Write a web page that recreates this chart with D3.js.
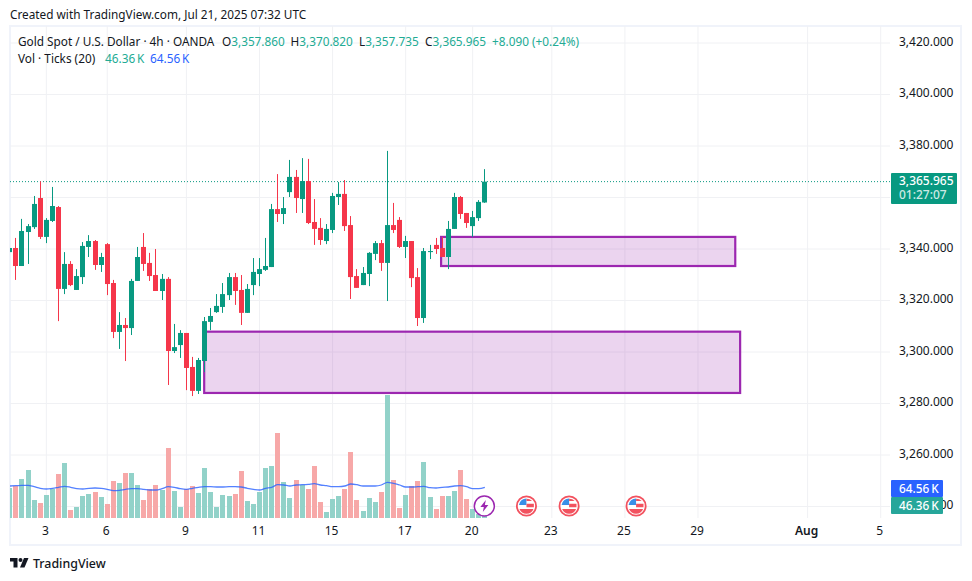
<!DOCTYPE html>
<html>
<head>
<meta charset="utf-8">
<script src="https://cdn.jsdelivr.net/npm/d3@7"></script>
<style>
html,body{margin:0;padding:0;background:#fff;}
svg{display:block;}
text{font-family:"Noto Sans",sans-serif;font-size:11.8px;fill:#131722;}
</style>
</head>
<body>
<div id="chart"></div>
<script>
const opens = [3338.6,3340.2,3333.2,3346.4,3348.3,3359.6,3344.5,3350.7,3356.1,3324.3,3334,3323.9,3328.9,3340.6,3342.9,3333.6,3341.7,3326.6,3307.6,3310.3,
  3309.1,3327.4,3340.6,3334.4,3329.7,3323.5,3328.2,3300.2,3302.5,3307.2,3294,3284.7,3296.3,3311.5,3315.3,3317.3,3321.9,3328.9,3323.9,3315,
  3325.8,3330.1,3331.7,3332.8,3355.3,3353.4,3361.9,3367.8,3359.2,3366.2,3350.3,3348,3342.9,3347.2,3360,3361.2,3349.1,3329.3,3325.8,3330.1,
  3337.9,3342.1,3334.4,3349.1,3351.1,3340.6,3342.9,3328.9,3313,3338.6,3341.4,3340.2,3336.7,3347.6,3360,3353.8,3348.7,3351.8,3357.86];
const highs = [3340.2,3344.1,3351.5,3349.5,3360.4,3366.1,3351.8,3363.9,3356.5,3338.6,3335.1,3332,3342.5,3345.2,3343.3,3338.3,3342.1,3327.8,3315.3,3313,
  3328.2,3340.6,3346,3338.3,3339.8,3330.1,3328.9,3310.7,3308.3,3307.2,3297.9,3297.5,3313.4,3316.9,3322.3,3326.6,3330.5,3330.5,3329.7,3326.2,
  3336.3,3336.3,3344.1,3357.3,3368.9,3360,3374.4,3370.5,3375.1,3374.8,3359.2,3351.8,3349.5,3361.6,3365.8,3366.6,3352.6,3332,3332.8,3338.6,
  3342.9,3343.3,3377.9,3357.7,3352.2,3344.9,3342.9,3332.4,3340.2,3341.4,3344.1,3344.5,3350.7,3361.6,3360.4,3353.8,3354.6,3358.8,3370.82];
const lows = [3338.6,3327.8,3333.2,3334,3347.6,3343.7,3342.1,3350.3,3311.8,3322.3,3325.4,3323.9,3326.2,3336.7,3331.7,3330.9,3321.9,3305.2,3301,3296.3,
  3306.4,3327.4,3331.3,3327.4,3323.5,3320,3287,3299.4,3297.5,3285,3282.7,3283.5,3292,3308.3,3315,3315,3320,3318.1,3310.3,3315,
  3321.9,3325.4,3331.3,3332.8,3350.3,3349.5,3360,3353.8,3353.8,3349.5,3341.4,3341.4,3341.7,3346,3356.9,3346.8,3320.4,3324.7,3325.8,3325.4,
  3335.5,3331.3,3319.6,3346,3340.2,3336.3,3325,3309.9,3311.1,3335.9,3337.9,3336.7,3332,3347.6,3351.5,3348,3344.5,3350.7,3357.735];
const closes = [3340.2,3333.2,3346.8,3348.7,3357.3,3344.5,3351.1,3356.5,3324.3,3334,3325.8,3329.3,3341,3342.9,3333.6,3336.7,3326.2,3307.6,3310.3,3309.1,
  3327.4,3336.7,3334,3329.3,3323.5,3328.2,3300.2,3301.7,3307.2,3293.6,3284.7,3296.7,3311.8,3313.8,3317.7,3322.3,3328.9,3323.5,3315,3324.3,
  3330.9,3332,3333.2,3355.3,3353.4,3355.7,3367.8,3359.6,3366.2,3349.9,3347.6,3343.3,3347.6,3360.4,3361.2,3348.7,3328.9,3324.7,3330.5,3338.3,
  3342.1,3334.4,3349.1,3347.2,3340.6,3342.9,3328.5,3313,3339,3339,3339.8,3336.7,3347.6,3360,3353.4,3349.9,3352.2,3358.1,3365.965];
const volumes = [64,66,73,82,52,49,57,63,78,89,42,45,56,58,60,55,48,71,69,79,
  79,67,52,63,67,62,104,61,45,63,66,59,84,60,45,57,56,58,81,51,
  48,60,84,86,119,70,54,72,67,63,86,50,40,53,56,63,100,52,41,54,
  50,60,157,72,44,57,66,71,90,55,43,56,56,61,82,53,43,38,46.36];
const volumeMA = [66,66.3,66.7,66.7,65.3,63.7,63,63.7,64.7,65.7,64.7,63.3,63,63.7,64,63.7,62.7,61.3,61.7,62.7,
  63.3,63.3,62.7,62,62,63.3,65.3,64.7,63.3,62.7,63.7,64.7,65.3,65.3,65,65,65.3,65.3,65,63.7,
  62.7,62,63.7,64.7,67.3,67,66,67,67.3,67.7,68.3,67,66.3,65.3,65.3,66,68,67.3,66,66,
  66,67,69.7,68.7,67,65,65,65.3,65.7,64.3,64,64.7,65,66,66.3,65.3,63.3,63.3,64.56];

const priceTicks = [3240,3260,3280,3300,3320,3340,3360,3380,3400,3420];
const timeLabels = ["3","6","9","11","15","17","20","23","25","29","Aug","5"];
const timeBars = [6,16,29,41,53,65,76,89,101,113,131,143];
const zones = [[70.9,119.2,3344.5,3333.2],[32,120,3307.7,3283.9]];
const flagBars = [85,92,103];
const lightningBar = 78;
const lastPrice = 3365.965;
const lastVolume = 46.36;
const lastMA = 64.56;

const width = 972, height = 581;
const green = "#089981", red = "#f5364a", purple = "#9c27b0", grid = "#f0f1f4";

const svg = d3.select("#chart").append("svg").attr("width", width).attr("height", height);
svg.append("rect").attr("width", width).attr("height", height).attr("fill", "#fff");

const x = d3.scaleLinear().domain([0, 143]).range([9.3, 880.2]);
const y = d3.scaleLinear().domain([3240, 3420]).range([506, 42.5]);
const yVol = d3.scaleLinear().domain([34, 157]).range([518, 395]);
const px = i => Math.round(x(i));

svg.append("defs").append("clipPath").attr("id", "plot")
  .append("rect").attr("x", 10).attr("y", 26).attr("width", 880).attr("height", 492);

//frame
svg.append("rect").attr("x", 10).attr("y", 26).attr("width", 951).attr("height", 519)
  .attr("fill", "none").attr("stroke", "#f0f3fa").attr("stroke-width", 2);

//axes double as the grid
const xAxis = svg.append("g").attr("transform", "translate(0,26)")
  .call(d3.axisBottom(x).tickValues(timeBars).tickSize(492).tickPadding(8)
    .tickFormat(d => timeLabels[timeBars.indexOf(d)]));
const yAxis = svg.append("g").attr("transform", "translate(10,0)")
  .call(d3.axisRight(y).tickValues(priceTicks).tickSize(880).tickPadding(9).tickFormat(d3.format(",.3f")));
[xAxis, yAxis].forEach(a => {
  a.select(".domain").remove();
  a.selectAll("line").attr("stroke", grid);
  a.selectAll("text").style("font-family", '"Noto Sans",sans-serif').style("font-size", "12px").attr("fill", "#131722");
});
xAxis.selectAll("text").attr("dx", -1);
yAxis.selectAll("text").attr("dy", "0.24em");
xAxis.selectAll("text").filter(d => d === 131).style("font-weight", 600);

const plot = svg.append("g").attr("clip-path", "url(#plot)");

//volume
plot.selectAll(".vol").data(volumes).join("rect").attr("class", "vol")
  .attr("x", (d, i) => px(i) - 2).attr("width", 5)
  .attr("y", d => yVol(d)).attr("height", d => 518 - yVol(d))
  .attr("fill", (d, i) => closes[i] >= opens[i] ? "#92d2c9" : "#f7a8a8");

plot.append("path").datum(volumeMA)
  .attr("fill", "none").attr("stroke", "#2962ff").attr("stroke-opacity", 0.8).attr("stroke-width", 1.3)
  .attr("d", d3.line().x((d, i) => x(i) + 0.5).y(d => yVol(d)).curve(d3.curveMonotoneX));

//zones
plot.selectAll(".zone").data(zones).join("rect").attr("class", "zone")
  .attr("x", d => x(d[0])).attr("width", d => x(d[1]) - x(d[0]))
  .attr("y", d => y(d[2])).attr("height", d => y(d[3]) - y(d[2]))
  .attr("fill", purple).attr("fill-opacity", 0.2).attr("stroke", purple).attr("stroke-width", 2.2);

//last price line
plot.append("line").attr("x1", 10).attr("x2", 890).attr("y1", y(lastPrice)).attr("y2", y(lastPrice))
  .attr("stroke", green).attr("stroke-width", 1).attr("stroke-dasharray", "1 2");

//candles
const candleColor = i => closes[i] >= opens[i] ? green : red;
plot.selectAll(".wick").data(closes).join("rect").attr("class", "wick")
  .attr("x", (d, i) => px(i)).attr("width", 1)
  .attr("y", (d, i) => y(highs[i])).attr("height", (d, i) => y(lows[i]) - y(highs[i]))
  .attr("fill", (d, i) => candleColor(i));
plot.selectAll(".body").data(closes).join("rect").attr("class", "body")
  .attr("x", (d, i) => px(i) - 2).attr("width", 5)
  .attr("y", (d, i) => y(Math.max(opens[i], d)))
  .attr("height", (d, i) => Math.max(1, Math.abs(y(opens[i]) - y(d))))
  .attr("fill", (d, i) => candleColor(i));

//event icons
const iconY = 506;
const flags = svg.selectAll(".flag").data(flagBars).join("g").attr("class", "flag")
  .attr("transform", d => `translate(${x(d) - 0.5},${iconY})`);
flags.append("circle").attr("r", 9.6).attr("fill", "#fff").attr("stroke", "#f2525f").attr("stroke-width", 1.8);
flags.append("path").attr("d", "M-7.5,-1 A7.5,7.5 0 0 1 0,-7.5 H0 V-1 Z").attr("fill", "#3a8fe8");
flags.append("path").attr("d", "M0,-7.3 A7.5,7.5 0 0 1 5.6,-5 H0 Z M0,-2.3 H7.4 V1.2 H0 Z").attr("fill", "#f2525f");
flags.append("path").attr("d", "M-7,3 H7 A7.5,7.5 0 0 1 -7,3 Z").attr("fill", "#f2525f");

const bolt = svg.append("g").attr("transform", `translate(${x(lightningBar)},${iconY})`);
bolt.append("circle").attr("r", 10).attr("fill", "#fff").attr("stroke", purple).attr("stroke-width", 1.5);
bolt.append("path").attr("d", "M1.5,-6 L-4,1 H-0.5 L-1.5,6 L4,-1 H0.5 Z").attr("fill", purple);

//price labels on the right
svg.append("rect").attr("x", 891).attr("y", 173).attr("width", 66).attr("height", 31).attr("rx", 1).attr("fill", green);
svg.append("text").attr("x", 899).attr("y", 185).style("font-size", "12px").style("fill", "#fff").style("font-weight", 500).text(d3.format(",.3f")(lastPrice));
svg.append("text").attr("x", 899).attr("y", 199).style("font-size", "12px").style("fill", "#cde9e4").style("font-weight", 500).text("01:27:07");

svg.append("rect").attr("x", 891).attr("y", 480).attr("width", 52).attr("height", 17).attr("rx", 1).attr("fill", "#2962ff");
svg.append("text").attr("x", 899).attr("y", 493).style("fill", "#fff").style("font-weight", 500).text(lastMA + "\u2009K");
svg.append("rect").attr("x", 891).attr("y", 497).attr("width", 52).attr("height", 17).attr("rx", 1).attr("fill", "#26a69a");
svg.append("text").attr("x", 899).attr("y", 510).style("fill", "#fff").style("font-weight", 500).text(lastVolume + "\u2009K");

//header and legend
const teal = "#22ab94";
svg.append("text").attr("x", 10).attr("y", 19).text("Created with TradingView.com, Jul 21, 2025 07:32 UTC");
svg.append("text").attr("x", 18).attr("y", 46).text("Gold Spot / U.S. Dollar · 4h · OANDA");
const ohlc = [["O", opens[78], 222], ["H", highs[78], 290.5], ["L", lows[78], 359], ["C", closes[78], 425]];
ohlc.forEach(d => {
  const t = svg.append("text").attr("x", d[2]).attr("y", 46);
  t.append("tspan").text(d[0]);
  t.append("tspan").style("fill", teal).text(d3.format(",.3f")(d[1]));
});
svg.append("text").attr("x", 492).attr("y", 46).style("fill", teal).text("+8.090 (+0.24%)");
svg.append("text").attr("x", 18).attr("y", 63).text("Vol · Ticks (20)");
svg.append("text").attr("x", 105).attr("y", 63).style("fill", teal).text(lastVolume + "\u2009K");
svg.append("text").attr("x", 150).attr("y", 63).style("fill", "#2962ff").text(lastMA + "\u2009K");

//logo
const logo = svg.append("g").attr("transform", "translate(10,558)").attr("fill", "#131722");
logo.append("path").attr("d", "M0,0 H7.5 V9.5 H3.5 V3.5 H0 Z");
logo.append("circle").attr("cx", 10.5).attr("cy", 2).attr("r", 2);
logo.append("path").attr("d", "M14,0 H18.5 L14.5,9.5 H10 Z");
svg.append("text").attr("x", 33).attr("y", 568).style("font-size", "12.4px").style("font-weight", 500).text("TradingView");
</script>
</body>
</html>
